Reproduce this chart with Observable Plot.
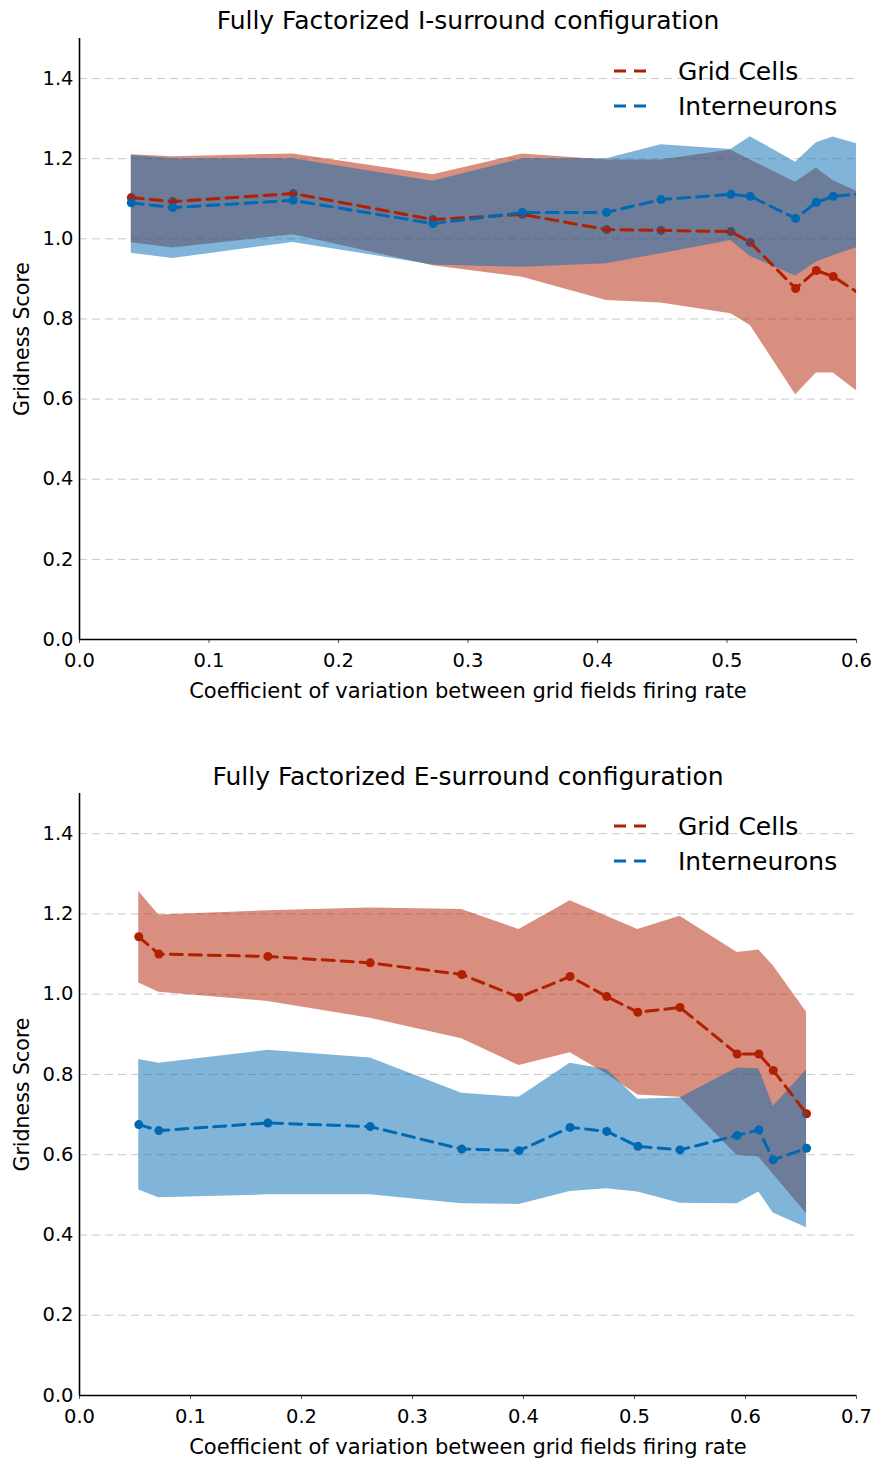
<!DOCTYPE html>
<html><head><meta charset="utf-8">
<script src="https://cdn.jsdelivr.net/npm/d3@7"></script>
<script src="https://cdn.jsdelivr.net/npm/@observablehq/plot@0.6"></script>
<style>body{margin:0;background:#fff} #charts svg{display:block}</style>
</head><body><div id="charts"></div>
<script>
// ---- tick labels ----
const xTicksTop = [0, 0.1, 0.2, 0.3, 0.4, 0.5, 0.6];
const xTicksBottom = [0, 0.1, 0.2, 0.3, 0.4, 0.5, 0.6, 0.7];
const yTicks = [0, 0.2, 0.4, 0.6, 0.8, 1.0, 1.2, 1.4];
const gridLevels = [0.2, 0.4, 0.6, 0.8, 1.0, 1.2, 1.4];
const seriesNames = ["Grid Cells", "Interneurons"];
const titles = ["Fully Factorized I-surround configuration", "Fully Factorized E-surround configuration"];

// ---- top panel (I-surround) ----
const topX          = [0.040, 0.072, 0.165, 0.273, 0.342, 0.407, 0.449, 0.503, 0.518, 0.553, 0.569, 0.582, 0.620];
const topGridMean   = [1.103, 1.093, 1.113, 1.048, 1.061, 1.023, 1.021, 1.018, 0.991, 0.876, 0.921, 0.906, 0.826];
const topGridHigh   = [1.210, 1.205, 1.212, 1.160, 1.212, 1.197, 1.197, 1.222, 1.197, 1.141, 1.177, 1.145, 1.090];
const topGridLow    = [0.990, 0.977, 1.010, 0.933, 0.904, 0.846, 0.840, 0.813, 0.784, 0.611, 0.665, 0.665, 0.572];
const topInterMean  = [1.090, 1.078, 1.096, 1.038, 1.066, 1.066, 1.098, 1.111, 1.106, 1.051, 1.091, 1.106, 1.117];
const topInterHigh  = [1.208, 1.200, 1.200, 1.144, 1.200, 1.200, 1.235, 1.223, 1.255, 1.191, 1.240, 1.254, 1.219];
const topInterLow   = [0.964, 0.951, 0.991, 0.935, 0.929, 0.938, 0.963, 0.996, 0.956, 0.907, 0.942, 0.958, 1.000];

// ---- bottom panel (E-surround) ----
const botX          = [0.0534, 0.0715, 0.1697, 0.2619, 0.3444, 0.396, 0.442, 0.475, 0.503, 0.541, 0.5925, 0.612, 0.625, 0.655];
const botGridMean   = [1.143, 1.100, 1.094, 1.078, 1.049, 0.992, 1.044, 0.994, 0.955, 0.967, 0.851, 0.851, 0.810, 0.702];
const botGridHigh   = [1.256, 1.197, 1.208, 1.215, 1.211, 1.161, 1.233, 1.194, 1.161, 1.194, 1.104, 1.110, 1.071, 0.955];
const botGridLow    = [1.028, 1.005, 0.982, 0.940, 0.889, 0.822, 0.854, 0.801, 0.749, 0.743, 0.598, 0.594, 0.551, 0.453];
const botInterMean  = [0.675, 0.660, 0.679, 0.670, 0.614, 0.610, 0.668, 0.658, 0.621, 0.612, 0.648, 0.662, 0.587, 0.616];
const botInterHigh  = [0.837, 0.828, 0.860, 0.841, 0.753, 0.743, 0.828, 0.812, 0.738, 0.741, 0.816, 0.814, 0.721, 0.811];
const botInterLow   = [0.512, 0.493, 0.500, 0.500, 0.478, 0.476, 0.508, 0.515, 0.507, 0.479, 0.478, 0.507, 0.455, 0.418];

const RED = "#b12000";
const BLUE = "#0169b2";
const FONT = "DejaVu Sans";

function rows(x, mean, lo, hi) {
  return x.map((d, i) => ({x: d, mean: mean[i], lo: lo[i], hi: hi[i]}));
}

function chart({title, xTicks, xmax, grid, inter, marginTop, marginBottom, titleDy}) {
  const fmt = d3.format(".1f");
  const W = 878, H = 731, mL = 79, mR = 22;
  const svg = Plot.plot({
    width: W, height: H, marginLeft: mL, marginRight: mR, marginTop, marginBottom,
    style: {fontFamily: FONT, fontSize: "20px", color: "#000", background: "#fff", overflow: "visible"},
    x: {domain: [0, xmax]},
    y: {domain: [0, 1.5]},
    marks: [
      Plot.ruleY(gridLevels, {stroke: "#c8c8c8", strokeWidth: 1, strokeDasharray: "8,5"}),
      Plot.areaY(grid, {x: "x", y1: "lo", y2: "hi", fill: RED, fillOpacity: 0.5, clip: true}),
      Plot.dot(grid, {x: "x", y: "mean", r: 4.5, fill: RED, stroke: "none", clip: true}),
      Plot.areaY(inter, {x: "x", y1: "lo", y2: "hi", fill: BLUE, fillOpacity: 0.5, clip: true}),
      Plot.dot(inter, {x: "x", y: "mean", r: 4.5, fill: BLUE, stroke: "none", clip: true}),
      Plot.line(grid, {x: "x", y: "mean", stroke: RED, strokeWidth: 3, strokeDasharray: "12,7", clip: true}),
      Plot.line(inter, {x: "x", y: "mean", stroke: BLUE, strokeWidth: 3, strokeDasharray: "12,7", clip: true}),
      Plot.axisX({ticks: xTicks, tickFormat: fmt, tickSize: 4, tickPadding: 10, stroke: "#555", label: null, fontSize: 19.5}),
      Plot.axisY({ticks: yTicks, tickFormat: fmt, tickSize: 0, tickPadding: 6, label: null, fontSize: 19.5}),
      Plot.ruleX([0], {stroke: "#000", strokeWidth: 1.6}),
      Plot.ruleY([0], {stroke: "#000", strokeWidth: 1.6}),
      Plot.text([title], {frameAnchor: "top", lineAnchor: "middle", dy: titleDy, fontSize: 25, fill: "#000"}),
      Plot.text(["Coefficient of variation between grid fields firing rate"], {frameAnchor: "bottom", lineAnchor: "middle", dy: 52, fontSize: 21, fill: "#000"}),
      Plot.text(["Gridness Score"], {frameAnchor: "left", lineAnchor: "middle", textAnchor: "middle", rotate: -90, dx: -57, fontSize: 20.5, fill: "#000"})
    ]
  });
  // legend (upper right, inside the frame)
  const g = d3.select(svg).append("g").attr("font-family", FONT).style("font-size", "25px").attr("text-anchor", "start");
  const lx = W - mR - 242;
  [[seriesNames[0], RED], [seriesNames[1], BLUE]].forEach(([name, c], i) => {
    const ly = marginTop + 33 + i * 35;
    g.append("line").attr("x1", lx).attr("x2", lx + 32).attr("y1", ly).attr("y2", ly)
      .attr("stroke", c).attr("stroke-width", 3).attr("stroke-dasharray", "12,8");
    g.append("text").attr("x", lx + 64).attr("y", ly).attr("dy", "0.35em").attr("fill", "#000").text(name);
  });
  return svg;
}

const root = document.getElementById("charts");
root.append(chart({
  title: titles[0], xTicks: xTicksTop, xmax: 0.6,
  grid: rows(topX, topGridMean, topGridLow, topGridHigh),
  inter: rows(topX, topInterMean, topInterLow, topInterHigh),
  marginTop: 38, marginBottom: 92, titleDy: -18
}));
root.append(chart({
  title: titles[1], xTicks: xTicksBottom, xmax: 0.7,
  grid: rows(botX, botGridMean, botGridLow, botGridHigh),
  inter: rows(botX, botInterMean, botInterLow, botInterHigh),
  marginTop: 62, marginBottom: 67, titleDy: -17
}));
</script></body></html>
